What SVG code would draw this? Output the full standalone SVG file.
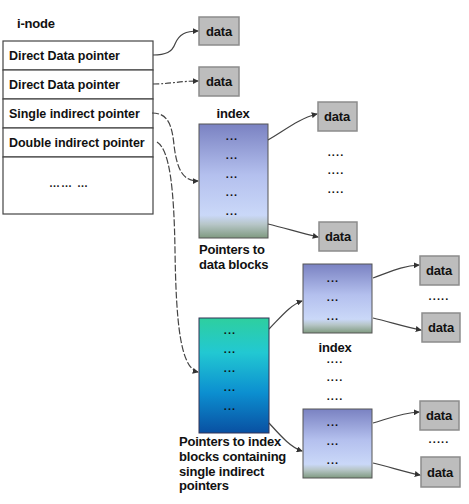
<svg xmlns="http://www.w3.org/2000/svg" width="469" height="504" viewBox="0 0 469 504">
<defs>
<linearGradient id="gIdx" x1="0" y1="0" x2="0" y2="1">
<stop offset="0" stop-color="#7a82c2"/>
<stop offset="0.45" stop-color="#b4c0ee"/>
<stop offset="0.8" stop-color="#cad8f8"/>
<stop offset="0.88" stop-color="#b7c6c8"/>
<stop offset="1" stop-color="#7f9a80"/>
</linearGradient>
<linearGradient id="gTeal" x1="0" y1="0" x2="0" y2="1">
<stop offset="0" stop-color="#2ecf9f"/>
<stop offset="0.3" stop-color="#22c8d2"/>
<stop offset="0.65" stop-color="#0c8fd0"/>
<stop offset="1" stop-color="#0950a2"/>
</linearGradient>
<marker id="arr" viewBox="0 0 8 8" refX="7" refY="4" markerWidth="6" markerHeight="6" orient="auto" markerUnits="userSpaceOnUse">
<path d="M0,0 L8,4 L0,8 z" fill="#333"/>
</marker>
</defs>
<style>
text{font-family:"Liberation Sans",Arial,sans-serif;font-weight:bold;fill:#111}
.lbl{font-size:12.5px;letter-spacing:-0.05px}
.cap{font-size:13px;letter-spacing:-0.2px}
.data{font-size:13px;letter-spacing:-0.2px}
.dots{font-size:11px;letter-spacing:0.5px}
.row{fill:#fff;stroke:#444;stroke-width:1.2}
.dbox{fill:#bdbdbd;stroke:#8c8c8c;stroke-width:1.5}
.idx{fill:url(#gIdx);stroke:#555;stroke-width:1}
.teal{fill:url(#gTeal);stroke:#335;stroke-width:1}
.c{fill:none;stroke:#444;stroke-width:1.2;marker-end:url(#arr)}
.dash{stroke-dasharray:7,2}
.dd{stroke-dasharray:6,2,2,2}
.vd{font-size:11px;fill:#222;letter-spacing:1px}
</style>

<g id="inode">
<text x="17" y="28" class="cap">i-node</text>
<rect class="row" x="3" y="41" width="150" height="29"/>
<rect class="row" x="3" y="70" width="150" height="29"/>
<rect class="row" x="3" y="99" width="150" height="29"/>
<rect class="row" x="3" y="128" width="150" height="29"/>
<rect class="row" x="3" y="157" width="150" height="57"/>
<text x="9" y="60" class="lbl">Direct Data pointer</text>
<text x="9" y="89" class="lbl">Direct Data pointer</text>
<text x="9" y="118" class="lbl">Single indirect pointer</text>
<text x="9" y="147" class="lbl">Double indirect pointer</text>
<text x="49" y="187" class="vd" font-weight="normal">……  …</text>
</g>

<g id="data1"><rect class="dbox" x="199" y="17" width="40" height="28"/><text x="219" y="36" text-anchor="middle" class="data">data</text></g>
<g id="data2"><rect class="dbox" x="199" y="67" width="40" height="29"/><text x="219" y="86" text-anchor="middle" class="data">data</text></g>

<g id="index1">
<text x="233" y="118" text-anchor="middle" class="cap">index</text>
<rect class="idx" x="199" y="124" width="69" height="114"/>
<g class="dots" text-anchor="middle"><text x="232" y="143">···</text><text x="232" y="162">···</text><text x="232" y="181">···</text><text x="232" y="199">···</text><text x="232" y="218">···</text></g>
<text x="199" y="254" class="cap">Pointers to</text>
<text x="199" y="269" class="cap">data blocks</text>
</g>
<g id="data3"><rect class="dbox" x="318" y="102" width="39" height="29"/><text x="337" y="121" text-anchor="middle" class="data">data</text></g>
<g id="gap1" class="dots" text-anchor="middle"><text x="336" y="159">····</text><text x="336" y="177">····</text><text x="336" y="196">····</text></g>
<g id="data4"><rect class="dbox" x="319" y="222" width="38" height="29"/><text x="338" y="241" text-anchor="middle" class="data">data</text></g>

<g id="dbl">
<rect class="teal" x="199" y="318" width="70" height="115"/>
<g class="dots" text-anchor="middle"><text x="230" y="337">···</text><text x="230" y="356">···</text><text x="230" y="375">···</text><text x="230" y="394">···</text><text x="230" y="413">···</text></g>
<text x="179" y="446" class="cap">Pointers to index</text>
<text x="179" y="461" class="cap">blocks containing</text>
<text x="179" y="476" class="cap">single indirect</text>
<text x="179" y="490" class="cap">pointers</text>
</g>

<g id="index2">
<rect class="idx" x="303" y="264" width="69" height="69"/>
<g class="dots" text-anchor="middle"><text x="333" y="285">···</text><text x="333" y="304">···</text><text x="333" y="323">···</text></g>
</g>
<g id="midlabel">
<text x="335" y="352" text-anchor="middle" class="cap">index</text>
<g class="dots" text-anchor="middle"><text x="335" y="366">····</text><text x="335" y="384">····</text><text x="335" y="403">····</text></g>
</g>
<g id="index3">
<rect class="idx" x="303" y="409" width="69" height="69"/>
<g class="dots" text-anchor="middle"><text x="333" y="429">···</text><text x="333" y="448">···</text><text x="333" y="467">···</text></g>
</g>

<g id="data5"><rect class="dbox" x="420" y="256" width="39" height="29"/><text x="439" y="275" text-anchor="middle" class="data">data</text></g>
<g id="gap2" class="dots" text-anchor="middle"><text x="439" y="303">·····</text></g>
<g id="data6"><rect class="dbox" x="422" y="313" width="38" height="29"/><text x="441" y="332" text-anchor="middle" class="data">data</text></g>
<g id="data7"><rect class="dbox" x="420" y="401" width="39" height="29"/><text x="439" y="420" text-anchor="middle" class="data">data</text></g>
<g id="gap3" class="dots" text-anchor="middle"><text x="439" y="446">·····</text></g>
<g id="data8"><rect class="dbox" x="421" y="457" width="39" height="30"/><text x="440" y="477" text-anchor="middle" class="data">data</text></g>

<g id="connectors">
<path class="c" d="M153,55 C166,55 172,52 175,44 C179,34 186,31 198,31"/>
<path class="c dd" d="M153,84 C170,84 180,81 198,81"/>
<path class="c dash" d="M152,113 C168,113 172,125 174,145 C177,170 183,181 198,181"/>
<path class="c dash" d="M157,142 C170,150 174,190 175,250 C176,320 180,368 198,372"/>
<path class="c" d="M268,140 C285,130 300,118 317,114"/>
<path class="c" d="M268,224 C285,228 300,233 318,237"/>
<path class="c" d="M269,329 C280,318 290,305 302,301"/>
<path class="c" d="M269,423 C280,435 290,447 302,451"/>
<path class="c" d="M373,278 C390,272 402,266 419,265"/>
<path class="c" d="M373,318 C390,322 405,327 421,330"/>
<path class="c" d="M373,423 C390,418 402,413 419,412"/>
<path class="c" d="M373,463 C390,467 405,472 420,475"/>
</g>
</svg>
